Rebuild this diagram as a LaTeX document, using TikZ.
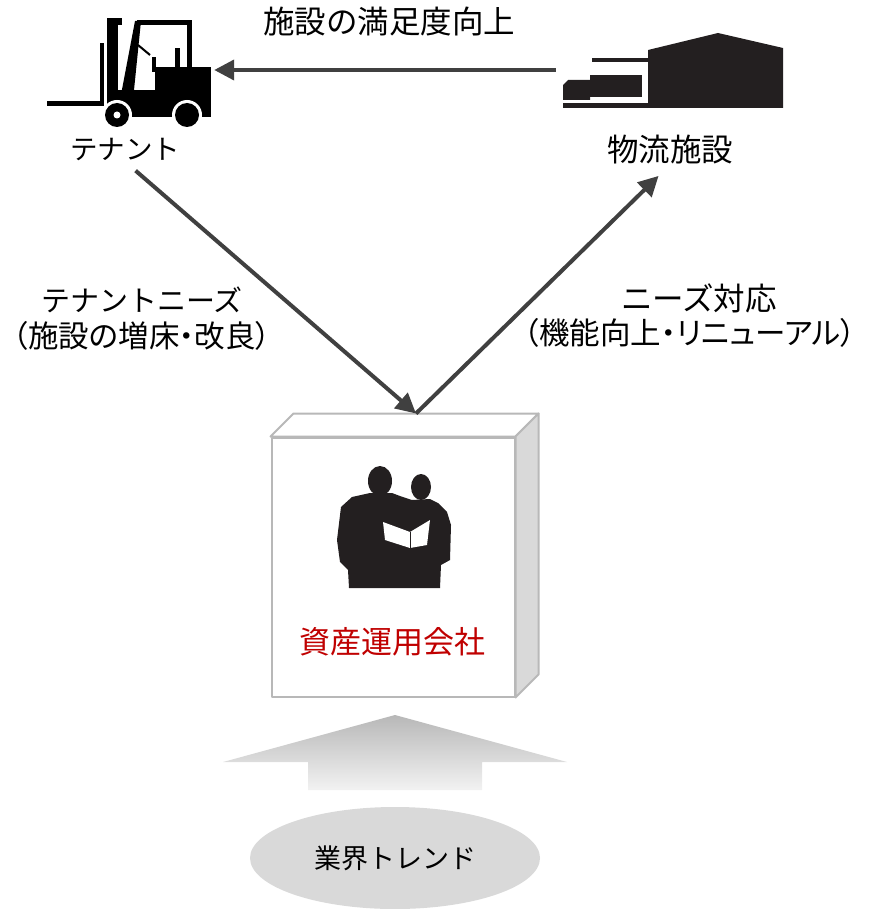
\documentclass[tikz,border=0pt]{standalone}
\usepackage{fontspec}
\setmainfont{Noto Sans CJK JP}
\newfontfamily\propfont[RawFeature=+palt]{Noto Sans CJK JP}
\usetikzlibrary{arrows.meta,shapes.geometric}
\definecolor{conncol}{HTML}{404040}
\definecolor{redtxt}{HTML}{C00000}
\definecolor{ink}{HTML}{231F20}

\begin{document}
\begin{tikzpicture}[x=1pt,y=-1pt,
	lbl/.style={inner sep=0pt,font=\fontsize{29}{36}\selectfont},
	biglbl/.style={inner sep=0pt,font=\fontsize{31.5}{36}\selectfont},
	notelbl/.style={inner sep=0pt,font=\propfont\fontsize{30.5}{36}\selectfont},
	icon/.style={inner sep=0pt},
	conn/.style={draw=conncol,line width=4pt,-{Triangle[length=20pt,width=20pt]}},
	facebox/.style={draw=black!28,line width=2pt,line join=round}]
\useasboundingbox (0,0) rectangle (876,909);

% forklift
\node[icon,minimum width=172,minimum height=110] (lift) at (128,70) {};
\fill (47,101) rectangle (104,106);
\fill (100,43) rectangle (104,106);
\fill (107,18) rectangle (118,118);
\fill (107,18) rectangle (122,25);
\fill (120,100) -- (135,21) -- (141,21) -- (133,100) -- cycle;
\fill (137,20) rectangle (192,25);
\fill (187,20) rectangle (192,70);
\fill (175,48) rectangle (180,70);
\draw[line width=2pt] (138,45) -- (150,55);
\fill (152,57) rectangle (156,72);
\fill (155,67) rectangle (211,117);
\fill (118,90) rectangle (211,117);
\foreach \x in {117,187}
{
	\fill[white] (\x,115) circle (15);
	\fill (\x,115) circle (12);
}
\fill[white] (117,115) circle (3.5);

% warehouse with truck
\node[icon,minimum width=222,minimum height=76] (house) at (672,70) {};
\fill[ink] (648,50) -- (718,33) -- (783,48) -- (783,108) -- (648,108) -- cycle;
\fill[ink] (592,58) rectangle (648,62);
\fill[ink] (590,75) rectangle (642,97);
\fill[ink] (563,85) -- (568,80) -- (590,80) -- (590,100) -- (563,100) -- cycle;
\fill[ink] (563,103) rectangle (783,108);

\node[lbl,font=\fontsize{27.5}{32}\selectfont] (tenant) at (125,150) {テナント};
\node[biglbl] (facility) at (670,150) {物流施設};
\node[biglbl] (satis) at (389,22) {施設の満足度向上};
\node[lbl] (needs) at (142,300) {テナントニーズ};
\node[notelbl] (needsnote) at (142,336) {（施設の増床・改良）};
\node[biglbl] (reply) at (699,298) {ニーズ対応};
\node[notelbl] (replynote) at (690,333) {（機能向上・リニューアル）};

% asset manager box
\node[facebox,fill=white,minimum width=243,minimum height=259] (company) at (393,567) {};
\coordinate (top) at ([shift={(23,-23)}]company.north);
\filldraw[facebox,fill=white] (company.north west) -- ++(23,-23) -- ([shift={(23,-23)}]company.north east) -- (company.north east) -- cycle;
\filldraw[facebox,fill=black!15] (company.north east) -- ++(23,-23) -- ([shift={(23,-23)}]company.south east) -- (company.south east) -- cycle;
\fill[ink] (380,481) ellipse (12 and 15);
\fill[ink] (421,487) ellipse (10 and 13);
\fill[ink] (352,497) -- (341,507) -- (337,540) -- (340,562) -- (348,570) -- (349,588) -- (440,588) -- (441,565) -- (450,560) -- (451,525) -- (447,512) -- (438,503) -- (430,499) -- (412,500) -- (400,496) -- (392,493) -- (370,493) -- cycle;
\fill[white] (383,522) -- (410,532) -- (430,520) -- (427,545) -- (410,548) -- (385,540) -- cycle;
\draw[ink,line width=1pt] (410,532) -- (410,548);
\node[lbl,text=redtxt,font=\fontsize{31}{36}\selectfont] (amc) at (392,642) {資産運用会社};

% industry trend
\shade[top color=black!28,bottom color=black!5] (395,715) -- (567,762) -- (482,762) -- (482,790) -- (308,790) -- (308,762) -- (223,762) -- cycle;
\node[ellipse,fill=black!15,minimum width=290,minimum height=102,font=\fontsize{27}{32}\selectfont] (trend) at (395,858) {業界トレンド};

\draw[conn,shorten <=5pt] (house.west) -- (lift.east);
\draw[conn,shorten <=14pt] (tenant.south) -- (top);
\draw[conn,shorten >=16pt] (top) -- (facility.south);
\end{tikzpicture}
\end{document}
